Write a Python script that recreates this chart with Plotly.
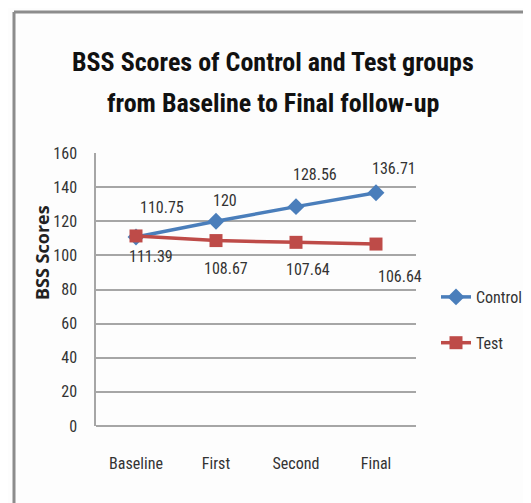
import plotly.graph_objects as go

categories = ["Baseline", "First", "Second", "Final"]
control = [110.75, 120, 128.56, 136.71]
test = [111.39, 108.67, 107.64, 106.64]
y_ticks = [0, 20, 40, 60, 80, 100, 120, 140, 160]

FONT = "Liberation Sans Narrow, Roboto Condensed, Roboto, sans-serif"
W, H = 531, 503
OFF = 8  # page body margin
L, R, T, B = 96 - OFF, 416 - OFF, 153 - OFF, 426 - OFF


def px(x):
    return (x - OFF - L) / (R - L)


def py(y):
    return (B - (y - OFF)) / (B - T)


fig = go.Figure()
fig.add_trace(go.Scatter(
    x=categories, y=control, name="Control", mode="lines+markers", legendgroup="c",
    line=dict(color="#4a7ebb", width=3.5),
    marker=dict(symbol="diamond", size=13, color="#4a7ebb"),
))
fig.add_trace(go.Scatter(
    x=categories, y=test, name="Test", mode="lines+markers", legendgroup="t",
    line=dict(color="#be4b48", width=3.5),
    marker=dict(symbol="square", size=13, color="#be4b48"),
))

# data labels
ctrl_shift = [(26, 30), (9, 21), (19, 32), (18, 24)]
test_shift = [(15, -21), (10, -28), (12, -27), (24, -32)]
for i, c in enumerate(categories):
    fig.add_annotation(x=c, y=control[i], text=f"{control[i]:g}", showarrow=False,
                       xshift=ctrl_shift[i][0], yshift=ctrl_shift[i][1],
                       font=dict(family=FONT, size=16, color="#333333"))
    fig.add_annotation(x=c, y=test[i], text=f"{test[i]:g}", showarrow=False,
                       xshift=test_shift[i][0], yshift=test_shift[i][1],
                       font=dict(family=FONT, size=16, color="#333333"))

fig.add_annotation(x=px(42), y=py(253), xref="paper", yref="paper", text="<b>BSS Scores</b>",
                   showarrow=False, textangle=-90, xanchor="center", yanchor="middle",
                   font=dict(family="Open Sans, sans-serif", size=18, color="#222"))

for txt, yy in [("BSS Scores of Control and Test groups", 62), ("from Baseline to Final follow-up", 103)]:
    fig.add_annotation(x=px(273), y=py(yy), xref="paper", yref="paper", text=f"<b>{txt}</b>",
                       showarrow=False, xanchor="center", yanchor="middle",
                       font=dict(family=FONT, size=26, color="#111"))

fig.update_layout(
    width=W, height=H,
    paper_bgcolor="#fdfdfd", plot_bgcolor="#fdfdfd",
    margin=dict(l=L, r=W - R, t=T, b=H - B, autoexpand=False),
    showlegend=True,
    legend=dict(x=px(436), y=py(320), xanchor="left", yanchor="middle",
                font=dict(family=FONT, size=16, color="#333"),
                tracegroupgap=22, itemwidth=30, bgcolor="rgba(0,0,0,0)"),
    xaxis=dict(type="category", range=[-0.5, 3.5], showgrid=False, showline=False,
               ticks="", ticklabelstandoff=26, automargin=False,
               tickfont=dict(family=FONT, size=16, color="#333")),
    yaxis=dict(range=[0, 160], tickvals=y_ticks, showgrid=True, gridcolor="#a6a6a6",
               gridwidth=1.5, showline=True, linecolor="#a6a6a6", linewidth=1.5,
               zeroline=True, zerolinecolor="#a6a6a6", zerolinewidth=1.5,
               ticks="", ticklabelstandoff=14, automargin=False,
               tickfont=dict(family=FONT, size=16, color="#333")),
)
# frame lines
fig.add_shape(type="line", xref="paper", yref="paper", x0=px(14), x1=px(545), y0=py(12), y1=py(12),
              line=dict(color="#8c8c8c", width=3))
fig.add_shape(type="line", xref="paper", yref="paper", x0=px(14), x1=px(14), y0=py(12), y1=py(515),
              line=dict(color="#8c8c8c", width=3))
fig.write_html("out.html")
